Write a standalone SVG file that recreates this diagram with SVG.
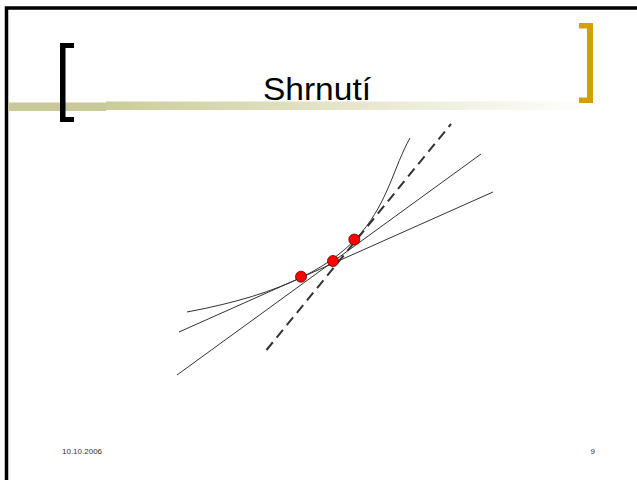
<svg xmlns="http://www.w3.org/2000/svg" width="637" height="480" viewBox="0 0 637 480">
  <defs>
    <linearGradient id="band" x1="106" y1="0" x2="592" y2="0" gradientUnits="userSpaceOnUse">
      <stop offset="0" stop-color="#CCCC99"/>
      <stop offset="1" stop-color="#FFFFFF"/>
    </linearGradient>
    <style>
      .thin { fill: none; stroke: #333333; stroke-width: 1; }
      .dash { fill: none; stroke: #333333; stroke-width: 2; stroke-dasharray: 10 6; }
      .dot { fill: #FF0000; stroke: #660000; stroke-width: 0.8; }
      .title { font-family: "Liberation Sans", Arial, sans-serif; font-size: 31px; fill: #000000; }
      .foot { font-family: "Liberation Sans", Arial, sans-serif; font-size: 8px; fill: #333333; }
    </style>
  </defs>
  <rect x="0" y="0" width="637" height="480" fill="#FFFFFF"/>
  <!-- frame -->
  <path d="M6.5,480 V8 H637" fill="none" stroke="#000000" stroke-width="3.5"/>
  <!-- band -->
  <rect x="8" y="102.5" width="98" height="8.5" fill="#C9C999"/>
  <rect x="106" y="101.5" width="486" height="8.5" fill="url(#band)"/>
  <!-- brackets -->
  <g id="left-bracket" fill="#000000">
    <rect x="60" y="43" width="5.5" height="79"/>
    <rect x="60" y="43" width="14" height="5"/>
    <rect x="60" y="117" width="14" height="5"/>
  </g>
  <g id="right-bracket" fill="#D4A000">
    <rect x="587" y="23" width="6" height="80"/>
    <rect x="579" y="23" width="14" height="5.5"/>
    <rect x="579" y="97.5" width="14" height="5.5"/>
  </g>
  <text class="title" x="263" y="100" textLength="108" lengthAdjust="spacingAndGlyphs">Shrnutí</text>
  <!-- graph -->
  <g id="connectors">
    <path id="curve" class="thin" d="M187,312 C387,275 378,195 410,138"/>
    <line id="tangent" class="thin" x1="177" y1="375" x2="481" y2="154"/>
    <line id="secant" class="thin" x1="179" y1="332" x2="493" y2="192"/>
    <line id="dashed" class="dash" x1="266.5" y1="350" x2="451" y2="124"/>
  </g>
  <g id="p1"><circle class="dot" cx="301" cy="276.7" r="5.5"/></g>
  <g id="p2"><circle class="dot" cx="333" cy="261" r="5.5"/></g>
  <g id="p3"><circle class="dot" cx="354.3" cy="239.5" r="5.5"/></g>
  <text class="foot" x="62" y="453.5">10.10.2006</text>
  <text class="foot" x="595" y="453.5" text-anchor="end">9</text>
</svg>
